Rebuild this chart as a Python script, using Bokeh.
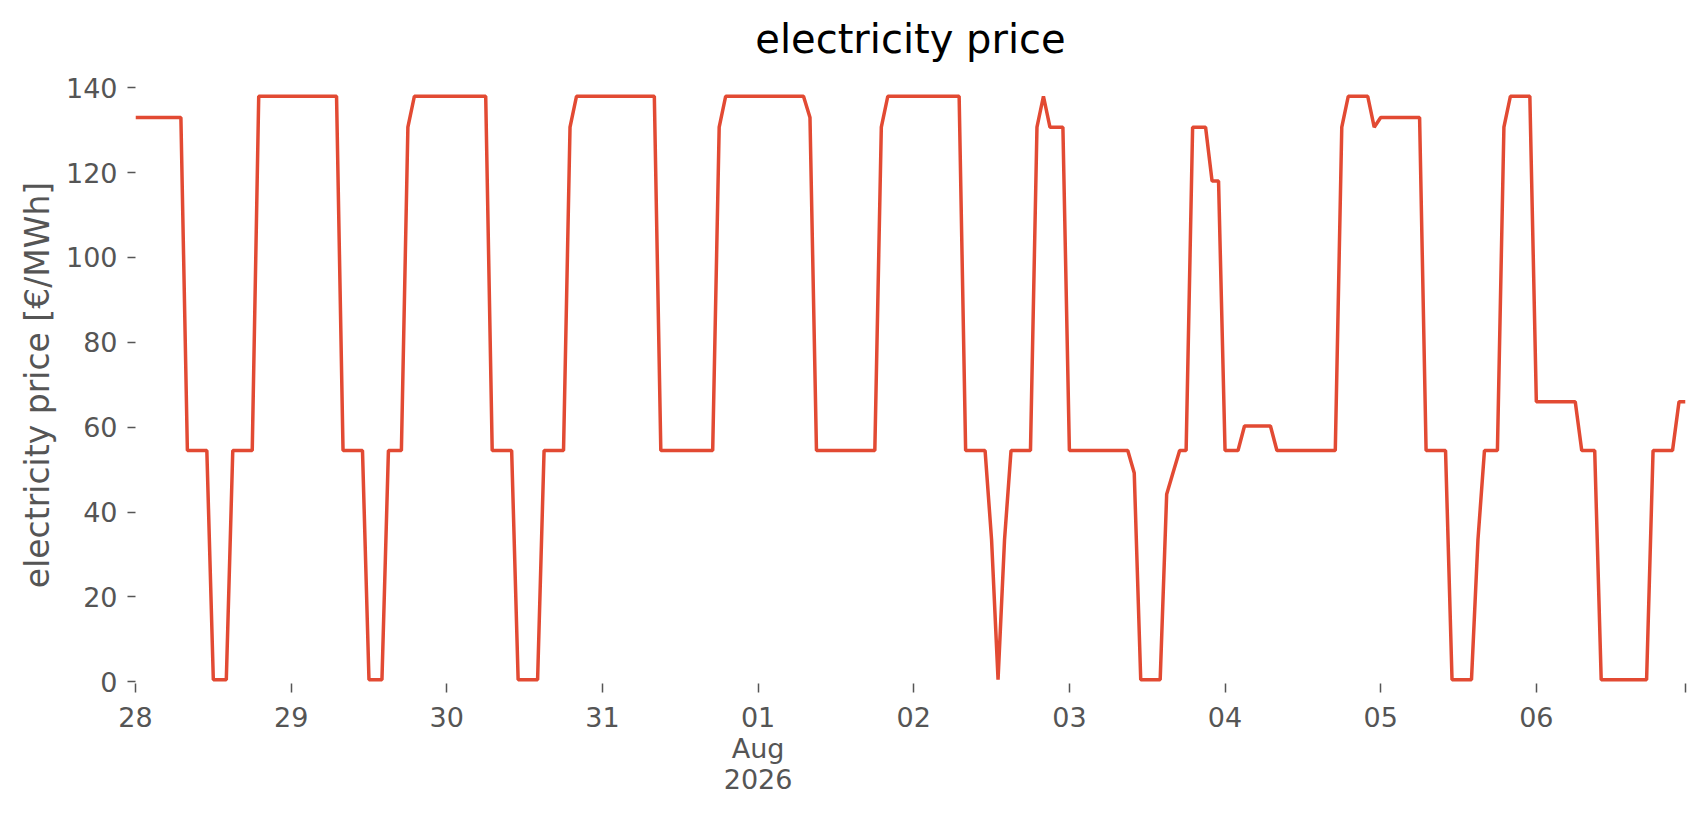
import pandas as pd
from bokeh.plotting import figure
from bokeh.models import Range1d, FixedTicker, ColumnDataSource, Title
from bokeh.embed import file_html
from bokeh.resources import INLINE

# ---- data (hourly electricity price, 2026-07-28 00:00 .. 2026-08-06 23:00) ----
start = "2026-07-28 00:00"
n_hours = 240
price = [
    # Jul 28
    133, 133, 133, 133, 133, 133, 133, 133, 54.5, 54.5, 54.5, 54.5,
    0.5, 0.5, 0.5, 54.5, 54.5, 54.5, 54.5, 138, 138, 138, 138, 138,
    # Jul 29
    138, 138, 138, 138, 138, 138, 138, 138, 54.5, 54.5, 54.5, 54.5,
    0.5, 0.5, 0.5, 54.5, 54.5, 54.5, 130.7, 138, 138, 138, 138, 138,
    # Jul 30
    138, 138, 138, 138, 138, 138, 138, 54.5, 54.5, 54.5, 54.5, 0.5,
    0.5, 0.5, 0.5, 54.5, 54.5, 54.5, 54.5, 130.7, 138, 138, 138, 138,
    # Jul 31
    138, 138, 138, 138, 138, 138, 138, 138, 138, 54.5, 54.5, 54.5,
    54.5, 54.5, 54.5, 54.5, 54.5, 54.5, 130.7, 138, 138, 138, 138, 138,
    # Aug 01
    138, 138, 138, 138, 138, 138, 138, 138, 133, 54.5, 54.5, 54.5,
    54.5, 54.5, 54.5, 54.5, 54.5, 54.5, 54.5, 130.7, 138, 138, 138, 138,
    # Aug 02
    138, 138, 138, 138, 138, 138, 138, 138, 54.5, 54.5, 54.5, 54.5,
    33.5, 0.5, 33.5, 54.5, 54.5, 54.5, 54.5, 130.7, 138, 130.7, 130.7, 130.7,
    # Aug 03
    54.5, 54.5, 54.5, 54.5, 54.5, 54.5, 54.5, 54.5, 54.5, 54.5, 49.2, 0.5,
    0.5, 0.5, 0.5, 44.2, 49.4, 54.5, 54.5, 130.7, 130.7, 130.7, 118, 118,
    # Aug 04
    54.5, 54.5, 54.5, 60.3, 60.3, 60.3, 60.3, 60.3, 54.5, 54.5, 54.5, 54.5,
    54.5, 54.5, 54.5, 54.5, 54.5, 54.5, 130.7, 138, 138, 138, 138, 130.7,
    # Aug 05
    133, 133, 133, 133, 133, 133, 133, 54.5, 54.5, 54.5, 54.5, 0.5,
    0.5, 0.5, 0.5, 33.5, 54.5, 54.5, 54.5, 130.7, 138, 138, 138, 138,
    # Aug 06
    66, 66, 66, 66, 66, 66, 66, 54.5, 54.5, 54.5, 0.5, 0.5,
    0.5, 0.5, 0.5, 0.5, 0.5, 0.5, 54.5, 54.5, 54.5, 54.5, 66, 66,
]
tick_days = ["2026-07-28", "2026-07-29", "2026-07-30", "2026-07-31", "2026-08-01",
             "2026-08-02", "2026-08-03", "2026-08-04", "2026-08-05", "2026-08-06",
             "2026-08-06 23:00"]
tick_labels = ["28", "29", "30", "31", "01\nAug\n2026", "02", "03", "04", "05", "06", ""]
y_ticks = [0, 20, 40, 60, 80, 100, 120, 140]
title_text = "electricity price"
y_label = "electricity price [€/MWh]"

# ---- build ----
times = pd.date_range(start, periods=n_hours, freq="h")
source = ColumnDataSource(data=dict(t=times, price=price))

def to_ms(s):
    return int(pd.Timestamp(s).value // 10**6)

tick_ms = [to_ms(d) for d in tick_days]

FONT = "DejaVu Sans"
GREY = "#555555"

p = figure(width=1690, height=799, x_axis_type="datetime",
           output_backend="svg", toolbar_location=None,
           min_border_left=135, min_border_right=5,
           min_border_top=86, min_border_bottom=116,
           title=title_text)
p.x_range = Range1d(to_ms(times[0]), to_ms(times[-1]))
p.y_range = Range1d(-0.4, 140.3)

p.line("t", "price", source=source, line_color="#E24A33", line_width=3.5)

p.background_fill_color = "white"
p.border_fill_color = "white"
p.outline_line_color = None
p.xgrid.grid_line_color = None
p.ygrid.grid_line_color = None

# main title (outermost) plus a small blank spacer between it and the frame
p.title.align = "center"
p.title.text_font = FONT
p.title.text_font_size = "40px"
p.title.text_font_style = "normal"
p.title.text_color = "black"
p.title.standoff = 10
p.add_layout(Title(text=" ", text_font_size="8px", standoff=9), "above")

xa = p.xaxis[0]
xa.ticker = FixedTicker(ticks=tick_ms)
xa.major_label_overrides = {t: lab for t, lab in zip(tick_ms, tick_labels)}
xa.minor_tick_line_color = None
xa.axis_line_color = None
xa.major_tick_line_color = GREY
xa.major_tick_line_width = 1.5
xa.major_tick_out = 9
xa.major_tick_in = 0
xa.major_label_standoff = 9
xa.major_label_text_font = FONT
xa.major_label_text_font_size = "27px"
xa.major_label_text_color = GREY
xa.major_label_text_line_height = 1.0

ya = p.yaxis[0]
ya.ticker = FixedTicker(ticks=y_ticks)
ya.minor_tick_line_color = None
ya.axis_line_color = None
ya.major_tick_line_color = GREY
ya.major_tick_line_width = 1.5
ya.major_tick_out = 8
ya.major_tick_in = 0
ya.major_label_standoff = 10
ya.major_label_text_font = FONT
ya.major_label_text_font_size = "27px"
ya.major_label_text_color = GREY
ya.axis_label = y_label
ya.axis_label_text_font = FONT
ya.axis_label_text_font_size = "33px"
ya.axis_label_text_font_style = "normal"
ya.axis_label_text_color = GREY
ya.axis_label_standoff = 6

open("out.html", "w").write(file_html(p, INLINE))
